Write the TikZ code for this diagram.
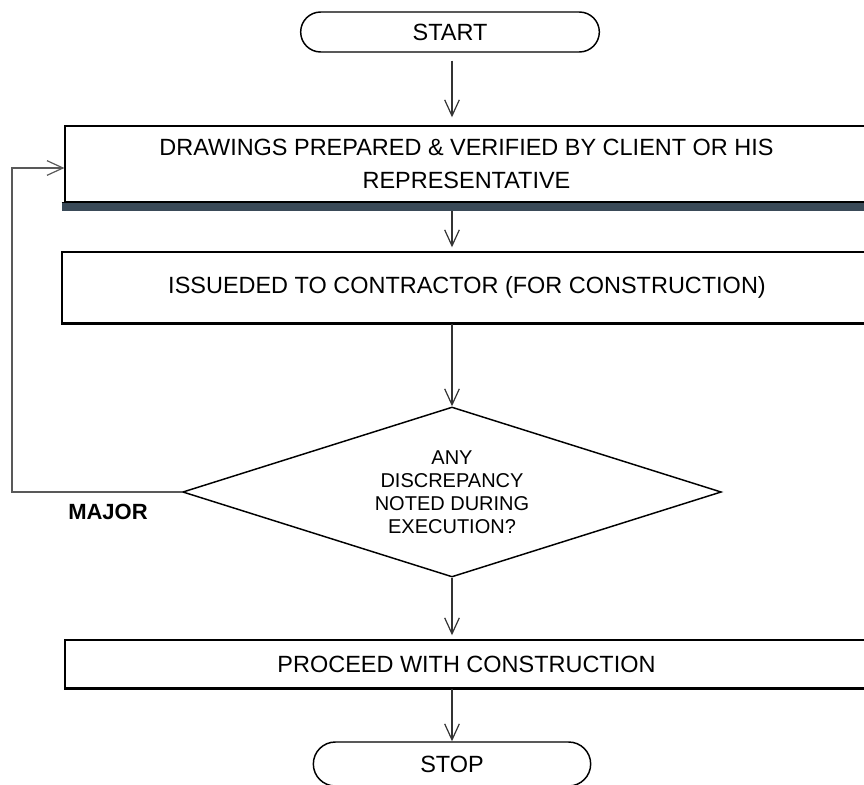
\documentclass[tikz,border=0pt]{standalone}
\usepackage{fontspec}
\setmainfont{Liberation Sans}
\usetikzlibrary{arrows.meta,shapes.geometric,shapes.misc}
\definecolor{barslate}{RGB}{58,74,88}
\begin{document}
\begin{tikzpicture}[x=0.75pt,y=-0.75pt,
  txt/.style={font=\fontsize{17.6}{24.75}\selectfont},
  terminal/.style={rounded rectangle, draw=black, line width=1.1pt, inner sep=0pt, txt},
  process/.style={rectangle, draw=black, line width=1.1pt, inner sep=0pt, align=center, txt},
  decision/.style={diamond, draw=black, line width=1.1pt, inner sep=0pt, aspect=3.17,
    align=center, font=\fontsize{15}{17.25}\selectfont},
  arr/.style={draw=black!80, line width=0.9pt,
    -{Straight Barb[length=12pt,width=11pt,line width=0.9pt]}},
  heavy/.style={line width=2.2pt, draw=black},
]
\useasboundingbox (0,0) rectangle (864,785);
\clip (0,0) rectangle (864,785);

% column of the main flow
\coordinate (axis) at (452,0);

\node[terminal, minimum width=224pt, minimum height=30pt] (start) at (450,32) {START};

\node[process, minimum width=602pt, minimum height=57pt] (box1) at (466.5,164)
  {DRAWINGS PREPARED \& VERIFIED BY CLIENT OR HIS\\REPRESENTATIVE};
\node[rectangle, fill=barslate, inner sep=0pt, minimum width=606pt, minimum height=6pt] (bar) at (466,207) {};
\draw[line width=1pt] (bar.north west) -- (bar.north east);

\node[process, minimum width=607.5pt, minimum height=53.25pt] (box2) at (467,287.5)
  {ISSUEDED TO CONTRACTOR (FOR CONSTRUCTION)};
\draw[heavy] (box2.south west) -- (box2.south east);

\node[decision, minimum width=404pt, minimum height=127.5pt] (dec) at (452,492)
  {ANY\\DISCREPANCY\\NOTED DURING\\EXECUTION?};

\node[process, minimum width=602pt, minimum height=36pt] (box3) at (466.5,664)
  {PROCEED WITH CONSTRUCTION};
\draw[heavy] (box3.south west) -- (box3.south east);

\node[terminal, minimum width=208pt, minimum height=33pt] (stop) at (452,764) {STOP};

\node[font=\fontsize{16.5}{20}\selectfont\bfseries] (major) at (108,512) {MAJOR};

% main flow
\draw[arr, shorten <=6pt, shorten >=6pt] (start.south -| axis) -- (box1.north -| axis);
\draw[arr, shorten >=3pt] (bar.south -| axis) -- (box2.north -| axis);
\draw[arr] (box2.south -| axis) -- (dec.north);
\draw[arr, shorten >=3pt] (dec.south) -- (box3.north -| axis);
\draw[arr] (box3.south -| axis) -- (stop.north -| axis);

% return path for major discrepancies
\coordinate (ret) at (12,0);
\coordinate (b1in) at ([yshift=-3pt]box1.west);
\draw[arr, draw=black!65, line width=1.1pt] (dec.west) -| (ret |- b1in) -- (b1in);
\end{tikzpicture}
\end{document}
